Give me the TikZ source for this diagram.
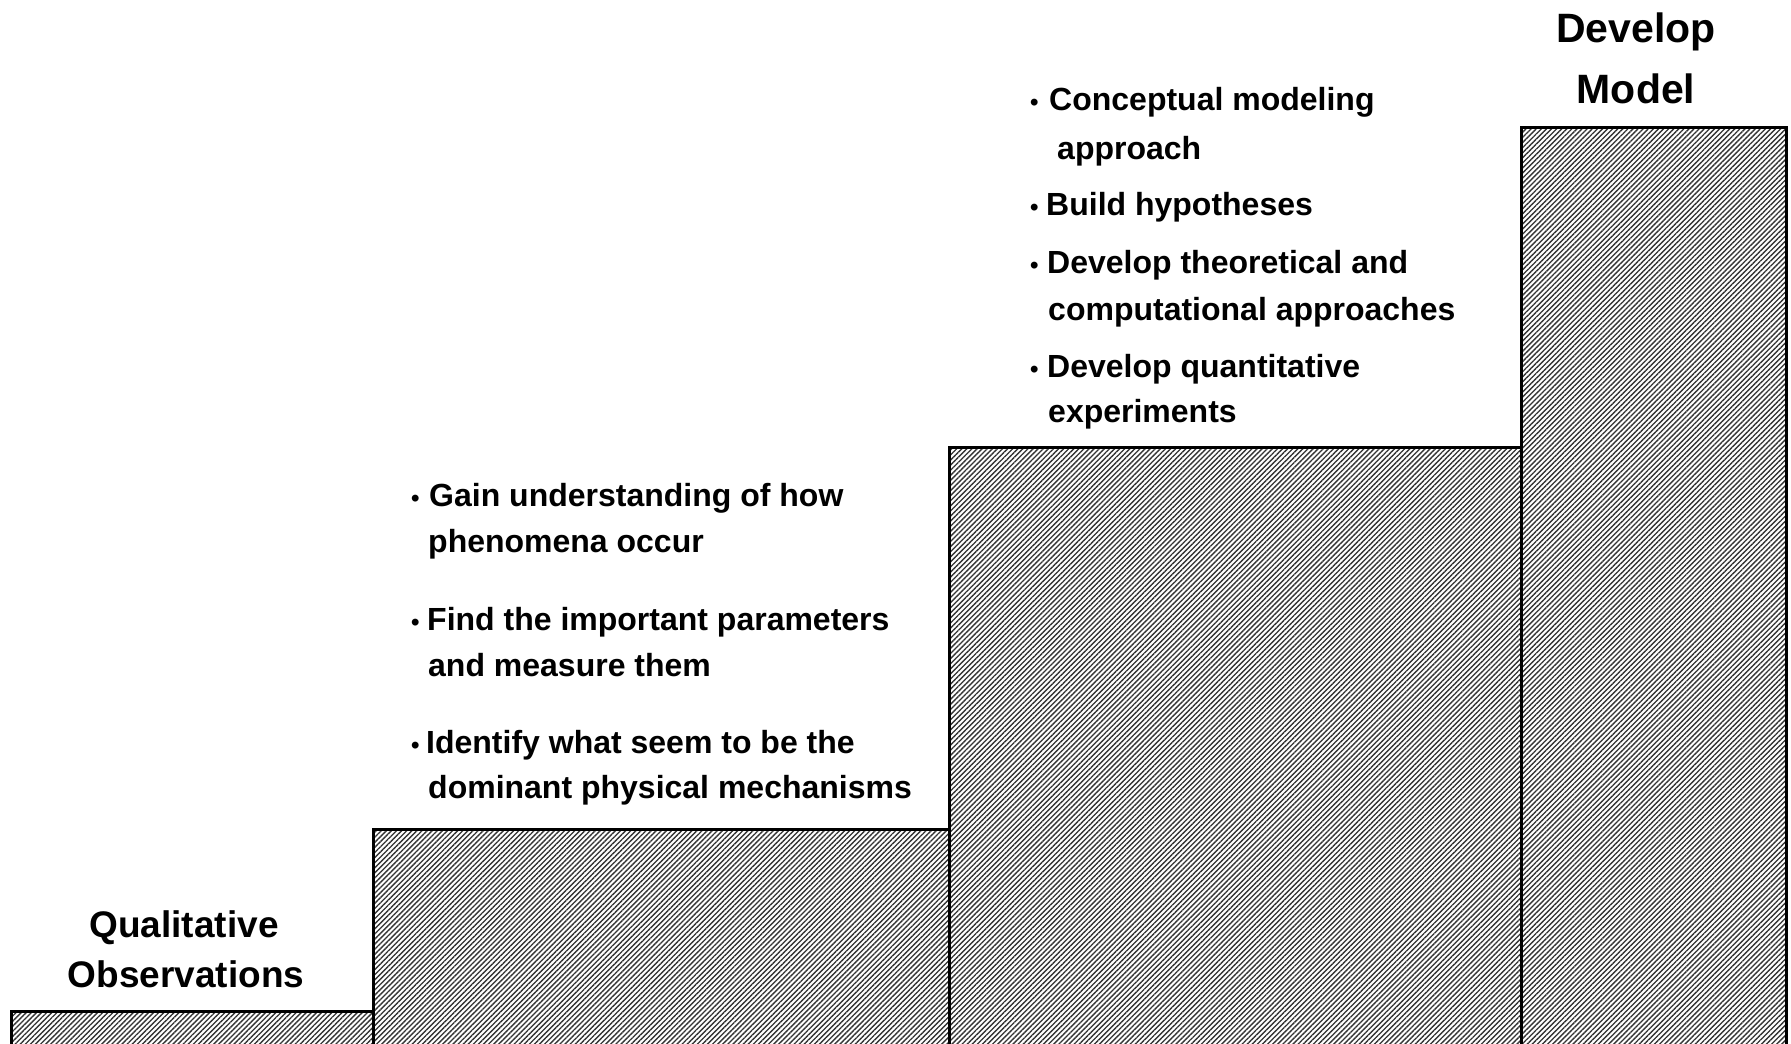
\documentclass[tikz,border=0pt]{standalone}
\usepackage{fontspec}
\setmainfont{Liberation Sans}
\usetikzlibrary{patterns.meta}
\begin{document}
\begin{tikzpicture}[x=1pt,y=-1pt,
  stepbox/.style={draw=black,line width=3pt,pattern={Lines[angle=45,distance=3.6pt,line width=1.35pt]},pattern color=black!80},
  heading/.style={font=\fontsize{37}{44}\selectfont\bfseries,inner sep=0pt,anchor=base},
  bigheading/.style={font=\fontsize{41}{48}\selectfont\bfseries,inner sep=0pt,anchor=base},
  item/.style={font=\fontsize{32}{38}\selectfont\bfseries,inner sep=0pt,anchor=base west},
  dot/.style={font=\fontsize{24}{24}\selectfont\bfseries,inner sep=0pt,anchor=base west}]
\useasboundingbox (0,0) rectangle (1791,1044);
\clip (0,0) rectangle (1791,1044);
% steps
\draw[stepbox] (11,1011) rectangle (373,1070);
\draw[stepbox] (373,829) rectangle (949,1070);
\draw[stepbox] (949,447) rectangle (1521,1070);
\draw[stepbox] (1521,127) rectangle (1786,1070);
% headings
\node[heading] (q1) at (184,937) {Qualitative};
\node[heading] (q2) at (186,987) {Observations};
\node[bigheading] (m1) at (1636,42) {Develop};
\node[bigheading] (m2) at (1636,103) {Model};
% group 2
\node[dot] (b21) at (411,506) {•};
\node[item] (t21a) at (429,506) {Gain understanding of how};
\node[item] (t21b) at (428,552) {phenomena occur};
\node[dot] (b22) at (411,630) {•};
\node[item] (t22a) at (427,630) {Find the important parameters};
\node[item] (t22b) at (428,676) {and measure them};
\node[dot] (b23) at (411,753) {•};
\node[item] (t23a) at (426,753) {Identify what seem to be the};
\node[item] (t23b) at (428,798) {dominant physical mechanisms};
% group 3
\node[dot] (b31) at (1030,110) {•};
\node[item] (t31a) at (1049,110) {Conceptual modeling};
\node[item] (t31b) at (1057,159) {approach};
\node[dot] (b32) at (1030,215) {•};
\node[item] (t32) at (1046,215) {Build hypotheses};
\node[dot] (b33) at (1030,273) {•};
\node[item] (t33a) at (1047,273) {Develop theoretical and};
\node[item] (t33b) at (1048,320) {computational approaches};
\node[dot] (b34) at (1030,377) {•};
\node[item] (t34a) at (1047,377) {Develop quantitative};
\node[item] (t34b) at (1048,422) {experiments};
\end{tikzpicture}
\end{document}
